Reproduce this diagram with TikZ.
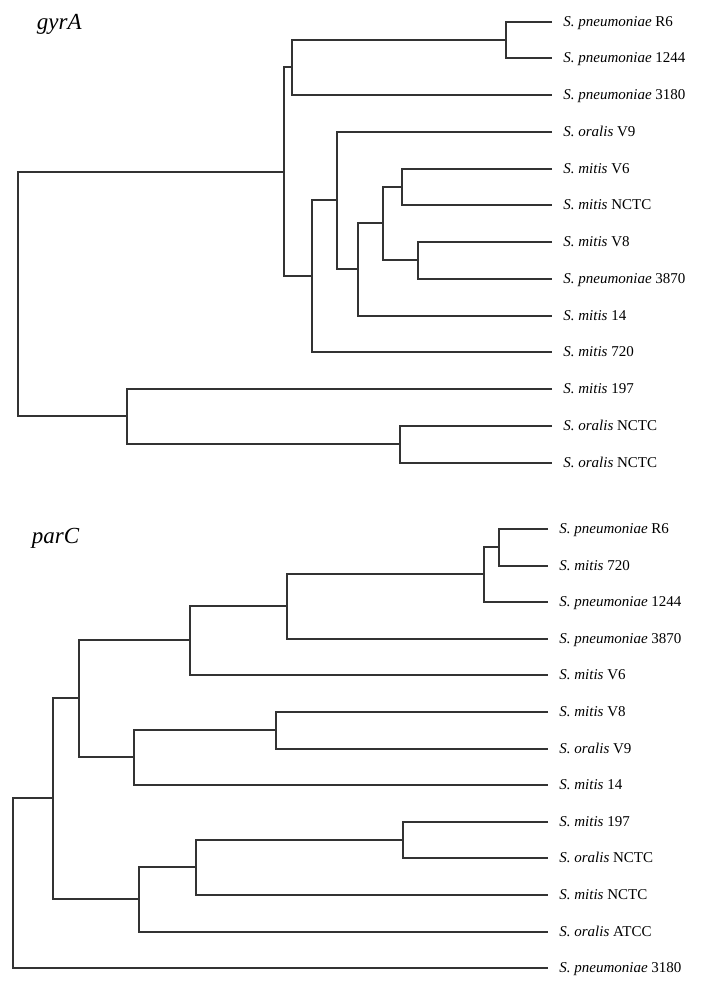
\documentclass[tikz,border=0pt]{standalone}
\usepackage{fontspec}
\setmainfont{Liberation Serif}

\begin{document}
\begin{tikzpicture}[
  x=0.5pt, y=-0.5pt,
  leaf/.style={anchor=west, font=\fontsize{7.5}{9}\selectfont,
               inner xsep=5.5pt, inner ysep=0pt,
               text height=5pt, text depth=0.2pt},
  ttl/.style={anchor=base west, font=\fontsize{11.5}{13}\selectfont\itshape,
              inner sep=0pt},
  br/.style={draw=black!80, line width=0.9pt},
]
\useasboundingbox (0,0) rectangle (706,986);

% gyrA
\node[ttl] (tg) at (36.5,29.5) {gyrA};

\node[leaf] (gR6)   at (552,22)  {\textit{S. pneumoniae} R6};
\node[leaf] (g1244) at (552,58)  {\textit{S. pneumoniae} 1244};
\node[leaf] (g3180) at (552,95)  {\textit{S. pneumoniae} 3180};
\node[leaf] (gV9)   at (552,132) {\textit{S. oralis} V9};
\node[leaf] (gV6)   at (552,169) {\textit{S. mitis} V6};
\node[leaf] (gmN)   at (552,205) {\textit{S. mitis} NCTC};
\node[leaf] (gV8)   at (552,242) {\textit{S. mitis} V8};
\node[leaf] (g3870) at (552,279) {\textit{S. pneumoniae} 3870};
\node[leaf] (g14)   at (552,316) {\textit{S. mitis} 14};
\node[leaf] (g720)  at (552,352) {\textit{S. mitis} 720};
\node[leaf] (g197)  at (552,389) {\textit{S. mitis} 197};
\node[leaf] (goN1)  at (552,426) {\textit{S. oralis} NCTC};
\node[leaf] (goN2)  at (552,463) {\textit{S. oralis} NCTC};

\coordinate (gA) at (506,40);
\coordinate (gB) at (292,67);
\coordinate (gC) at (402,187);
\coordinate (gD) at (418,260);
\coordinate (gE) at (383,223);
\coordinate (gF) at (358,269);
\coordinate (gG) at (337,200);
\coordinate (gH) at (312,276);
\coordinate (gI) at (284,172);
\coordinate (gJ) at (400,444);
\coordinate (gK) at (127,416);
\coordinate (g0) at (18,294);

\draw[br] (gR6) -| (gA) |- (g1244);
\draw[br] (gA) -| (gB) |- (g3180);
\draw[br] (gV6) -| (gC) |- (gmN);
\draw[br] (gV8) -| (gD) |- (g3870);
\draw[br] (gC) -| (gE) |- (gD);
\draw[br] (gE) -| (gF) |- (g14);
\draw[br] (gV9) -| (gG) |- (gF);
\draw[br] (gG) -| (gH) |- (g720);
\draw[br] (gB) -| (gI) |- (gH);
\draw[br] (goN1) -| (gJ) |- (goN2);
\draw[br] (g197) -| (gK) |- (gJ);
\draw[br] (gI) -| (g0) |- (gK);

% parC
\node[ttl] (tp) at (31.5,543) {parC};

\node[leaf] (pR6)   at (548,529) {\textit{S. pneumoniae} R6};
\node[leaf] (p720)  at (548,566) {\textit{S. mitis} 720};
\node[leaf] (p1244) at (548,602) {\textit{S. pneumoniae} 1244};
\node[leaf] (p3870) at (548,639) {\textit{S. pneumoniae} 3870};
\node[leaf] (pV6)   at (548,675) {\textit{S. mitis} V6};
\node[leaf] (pV8)   at (548,712) {\textit{S. mitis} V8};
\node[leaf] (pV9)   at (548,749) {\textit{S. oralis} V9};
\node[leaf] (p14)   at (548,785) {\textit{S. mitis} 14};
\node[leaf] (p197)  at (548,822) {\textit{S. mitis} 197};
\node[leaf] (poN)   at (548,858) {\textit{S. oralis} NCTC};
\node[leaf] (pmN)   at (548,895) {\textit{S. mitis} NCTC};
\node[leaf] (poA)   at (548,932) {\textit{S. oralis} ATCC};
\node[leaf] (p3180) at (548,968) {\textit{S. pneumoniae} 3180};

\coordinate (pA) at (499,547);
\coordinate (pB) at (484,574);
\coordinate (pC) at (287,606);
\coordinate (pD) at (190,640);
\coordinate (pE) at (276,730);
\coordinate (pF) at (134,757);
\coordinate (pG) at (79,698);
\coordinate (pH) at (403,840);
\coordinate (pI) at (196,867);
\coordinate (pJ) at (139,899);
\coordinate (pK) at (53,798);
\coordinate (p0) at (13,883);

\draw[br] (pR6) -| (pA) |- (p720);
\draw[br] (pA) -| (pB) |- (p1244);
\draw[br] (pB) -| (pC) |- (p3870);
\draw[br] (pC) -| (pD) |- (pV6);
\draw[br] (pV8) -| (pE) |- (pV9);
\draw[br] (pE) -| (pF) |- (p14);
\draw[br] (pD) -| (pG) |- (pF);
\draw[br] (p197) -| (pH) |- (poN);
\draw[br] (pH) -| (pI) |- (pmN);
\draw[br] (pI) -| (pJ) |- (poA);
\draw[br] (pG) -| (pK) |- (pJ);
\draw[br] (pK) -| (p0) |- (p3180);

\end{tikzpicture}
\end{document}
